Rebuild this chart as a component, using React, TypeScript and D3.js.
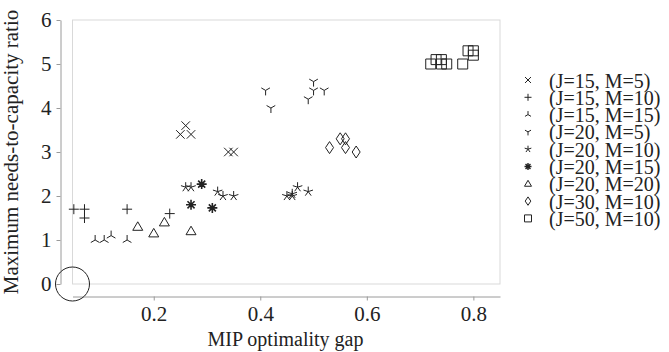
import React, { useEffect, useRef } from "react";
import * as d3 from "d3";

// series labels (legend order)
const seriesLabels = [
  "(J=15, M=5)",
  "(J=15, M=10)",
  "(J=15, M=15)",
  "(J=20, M=5)",
  "(J=20, M=10)",
  "(J=20, M=15)",
  "(J=20, M=20)",
  "(J=30, M=10)",
  "(J=50, M=10)",
];
const seriesShapes = ["x", "plus", "triUp", "triDown", "star", "asterisk", "triangle", "diamond", "square"];

// [gap, ratio] per series
const j15m5 = [[0.25, 3.4], [0.26, 3.6], [0.27, 3.4], [0.34, 3.0], [0.35, 3.0]];
const j15m10 = [[0.05, 1.7], [0.07, 1.7], [0.07, 1.5], [0.15, 1.7], [0.23, 1.6]];
const j15m15 = [[0.09, 1.0], [0.107, 1.0], [0.12, 1.1], [0.15, 1.0]];
const j20m5 = [[0.41, 4.4], [0.42, 4.0], [0.49, 4.2], [0.5, 4.4], [0.5, 4.6], [0.52, 4.4]];
const j20m10 = [
  [0.26, 2.2], [0.27, 2.2], [0.32, 2.1], [0.33, 2.0], [0.35, 2.0],
  [0.45, 2.0], [0.46, 2.0], [0.46, 2.05], [0.47, 2.2], [0.49, 2.1],
];
const j20m15 = [[0.29, 2.27], [0.27, 1.8], [0.31, 1.73]];
const j20m20 = [[0.17, 1.3], [0.2, 1.15], [0.22, 1.4], [0.27, 1.2]];
const j30m10 = [[0.53, 3.1], [0.55, 3.3], [0.56, 3.3], [0.56, 3.1], [0.58, 3.0]];
const j50m10 = [
  [0.72, 5.0], [0.73, 5.1], [0.74, 5.0], [0.74, 5.1], [0.75, 5.0],
  [0.78, 5.0], [0.79, 5.3], [0.8, 5.3], [0.8, 5.2],
];
const seriesData = [j15m5, j15m10, j15m15, j20m5, j20m10, j20m15, j20m20, j30m10, j50m10];

const xTicks = [0.2, 0.4, 0.6, 0.8];
const yTicks = [0, 1, 2, 3, 4, 5, 6];
const xDomain = [0.0475, 0.85];
const yDomain = [0, 6];

// marker path, r = half size
function markerPath(shape: string, r: number): string {
  const p = d3.path();
  const spokes = (n: number, start: number) => {
    for (let i = 0; i < n; i++) {
      const a = start + (i * 2 * Math.PI) / n;
      p.moveTo(0, 0);
      p.lineTo(r * Math.cos(a), r * Math.sin(a));
    }
  };
  switch (shape) {
    case "x":
      p.moveTo(-r * 0.85, -r * 0.85); p.lineTo(r * 0.85, r * 0.85);
      p.moveTo(-r * 0.85, r * 0.85); p.lineTo(r * 0.85, -r * 0.85);
      break;
    case "plus":
      p.moveTo(-r, 0); p.lineTo(r, 0);
      p.moveTo(0, -r); p.lineTo(0, r);
      break;
    case "triUp":
      spokes(3, -Math.PI / 2);
      break;
    case "triDown":
      spokes(3, Math.PI / 2);
      break;
    case "star":
      spokes(5, -Math.PI / 2);
      break;
    case "asterisk":
      spokes(8, 0);
      break;
    case "triangle":
      p.moveTo(0, -r); p.lineTo(r, r * 0.7); p.lineTo(-r, r * 0.7); p.closePath();
      break;
    case "diamond":
      p.moveTo(0, -r * 1.2); p.lineTo(r * 0.8, 0); p.lineTo(0, r * 1.2); p.lineTo(-r * 0.8, 0); p.closePath();
      break;
    case "square":
      p.rect(-r, -r, 2 * r, 2 * r);
      break;
  }
  return p.toString();
}

function App() {
  const svgRef = useRef<SVGSVGElement>(null);
  const width = 669;
  const height = 352;

  useEffect(() => {
    const svg = d3.select(svgRef.current);
    svg.selectAll("*").remove();

    const frame = { left: 72.5, right: 500, top: 20, bottom: 284 };
    const font = "'Liberation Serif', 'Times New Roman', serif";

    const x = d3.scaleLinear().domain(xDomain).range([frame.left, frame.right]);
    const y = d3.scaleLinear().domain(yDomain).range([frame.bottom, frame.top]);

    // light frame round the plot area
    svg
      .append("rect")
      .attr("x", frame.left)
      .attr("y", frame.top)
      .attr("width", frame.right - frame.left)
      .attr("height", frame.bottom - frame.top)
      .attr("fill", "none")
      .attr("stroke", "#d9d9d9")
      .attr("stroke-width", 1);

    // offset y axis
    const yAxis = svg
      .append("g")
      .attr("transform", `translate(${frame.left - 12},0)`)
      .call(
        d3.axisLeft(y).tickValues(yTicks).tickFormat(d3.format("d")).tickSize(4).tickSizeOuter(0).tickPadding(5)
      );
    yAxis.select(".domain").attr("stroke", "#9a9a9a");
    yAxis.selectAll(".tick line").attr("stroke", "#9a9a9a");
    yAxis
      .selectAll("text")
      .attr("font-family", font)
      .attr("font-size", 21)
      .attr("fill", "#222");

    // offset x axis
    const xAxis = svg
      .append("g")
      .attr("transform", `translate(0,${frame.bottom + 12.5})`)
      .call(
        d3.axisBottom(x).tickValues(xTicks).tickFormat(d3.format(".1f")).tickSize(4).tickSizeOuter(0).tickPadding(6)
      );
    xAxis.select(".domain").attr("stroke", "#9a9a9a");
    xAxis.selectAll(".tick line").attr("stroke", "#9a9a9a");
    xAxis
      .selectAll("text")
      .attr("font-family", font)
      .attr("font-size", 21)
      .attr("fill", "#222");

    // axis titles
    svg
      .append("text")
      .attr("x", 285.5)
      .attr("y", 346)
      .attr("text-anchor", "middle")
      .attr("font-family", font)
      .attr("font-size", 20)
      .attr("fill", "#222")
      .text("MIP optimality gap");

    svg
      .append("text")
      .attr("transform", `translate(18,${(frame.top + frame.bottom) / 2}) rotate(-90)`)
      .attr("text-anchor", "middle")
      .attr("font-family", font)
      .attr("font-size", 21)
      .attr("fill", "#222")
      .text("Maximum needs-to-capacity ratio");

    // circle highlighting the origin corner
    svg
      .append("circle")
      .attr("cx", x(xDomain[0]))
      .attr("cy", y(0))
      .attr("r", 17)
      .attr("fill", "none")
      .attr("stroke", "#222")
      .attr("stroke-width", 1);

    // points
    seriesData.forEach((pts, i) => {
      const shape = seriesShapes[i];
      svg
        .append("g")
        .selectAll("path")
        .data(pts)
        .enter()
        .append("path")
        .attr("transform", (d) => `translate(${x(d[0])},${y(d[1])})`)
        .attr("d", markerPath(shape, 5))
        .attr("fill", "none")
        .attr("stroke", "#222")
        .attr("stroke-width", shape === "asterisk" ? 1.6 : 1);
    });

    // legend
    const legend = svg.append("g").attr("transform", "translate(528,80)");
    const rows = legend
      .selectAll("g")
      .data(seriesLabels)
      .enter()
      .append("g")
      .attr("transform", (_, i) => `translate(0,${i * 17.3})`);
    rows
      .append("path")
      .attr("d", (_, i) => markerPath(seriesShapes[i], 3.5))
      .attr("fill", "none")
      .attr("stroke", "#222")
      .attr("stroke-width", (_, i) => (seriesShapes[i] === "asterisk" ? 1.4 : 1));
    rows
      .append("text")
      .attr("x", 21)
      .attr("y", 7.5)
      .attr("font-family", font)
      .attr("font-size", 20)
      .attr("fill", "#222")
      .text((d) => d);
  }, []);

  return (
    <svg
      ref={svgRef}
      width={width}
      height={height}
      style={{ position: "absolute", left: 0, top: 0, background: "#fff" }}
    ></svg>
  );
}

export default App;
